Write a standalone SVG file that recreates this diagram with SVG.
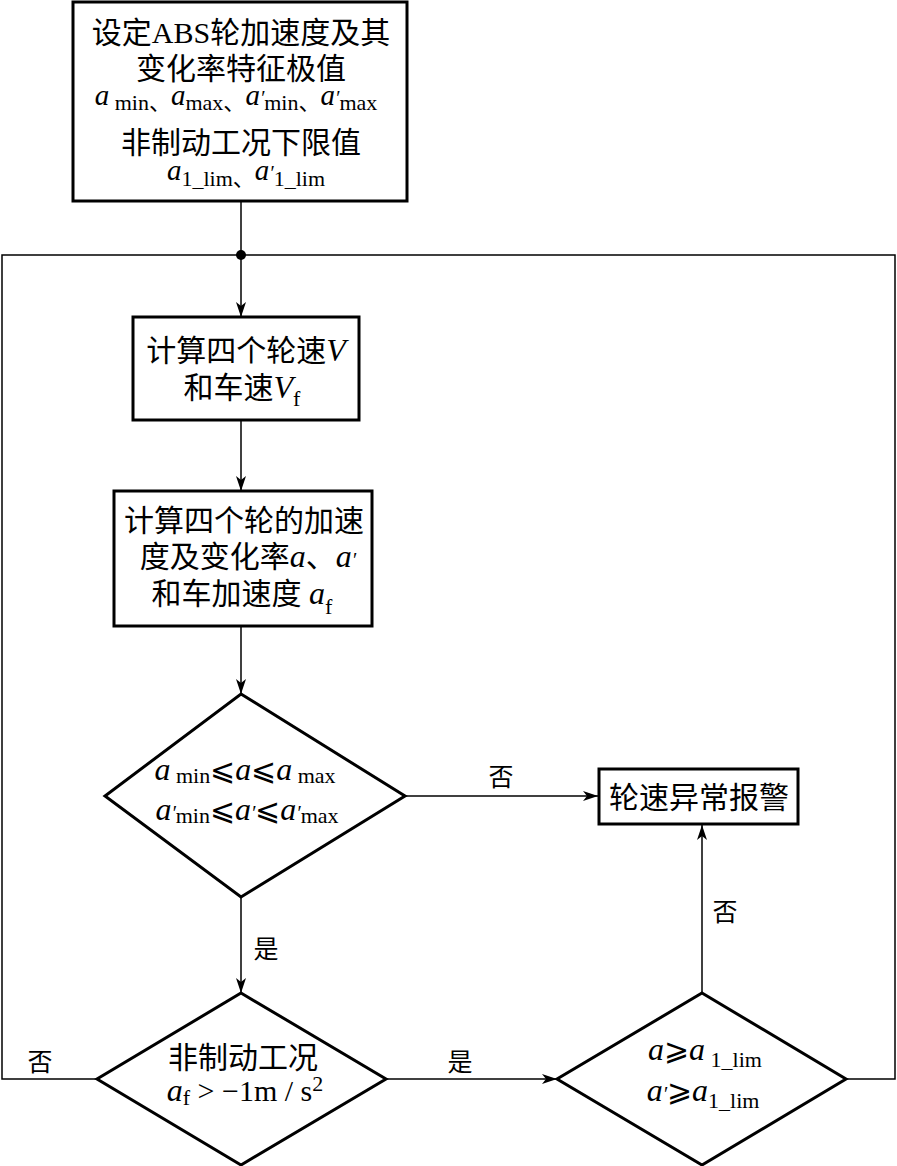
<svg xmlns="http://www.w3.org/2000/svg" width="897" height="1166" viewBox="0 0 897 1166">
<style>
.box{fill:#fff;stroke:#000;stroke-width:3}
.conn{fill:none;stroke:#000;stroke-width:1.5}
.t{font-family:"Liberation Serif","Noto Sans CJK SC","DejaVu Serif",serif;font-size:30px;fill:#000}
.i{font-style:italic;font-size:32px}
.ti{font-style:italic;font-size:29px}
.p{font-style:italic;font-size:20px}
.s{font-size:22px;font-style:normal}
.lbl{font-family:"Liberation Serif","Noto Sans CJK SC",serif;font-size:25px;fill:#000}
</style>
<defs>
<marker id="arr" markerUnits="userSpaceOnUse" markerWidth="16" markerHeight="10" refX="15" refY="5" orient="auto">
<path d="M0,0 L15,5 L0,10 L4,5 Z" fill="#000"/>
</marker>
</defs>
<g id="connectors">
<path class="conn" d="M241,201 V317" marker-end="url(#arr)"/>
<path class="conn" d="M97,1079 H2 V255 H895 V1079 H846"/>
<circle cx="241" cy="255" r="5" fill="#000"/>
<path class="conn" d="M241,420 V491" marker-end="url(#arr)"/>
<path class="conn" d="M241,626 V694" marker-end="url(#arr)"/>
<path class="conn" d="M405,796 H598" marker-end="url(#arr)"/>
<path class="conn" d="M241,897 V993" marker-end="url(#arr)"/>
<path class="conn" d="M386,1079 H557" marker-end="url(#arr)"/>
<path class="conn" d="M702,993 V825" marker-end="url(#arr)"/>
<text class="lbl" x="501" y="786" text-anchor="middle">否</text>
<text class="lbl" x="266" y="958" text-anchor="middle">是</text>
<text class="lbl" x="40" y="1071" text-anchor="middle">否</text>
<text class="lbl" x="460" y="1071" text-anchor="middle">是</text>
<text class="lbl" x="725" y="921" text-anchor="middle">否</text>
</g>
<g id="node-init">
<rect class="box" x="73" y="2" width="334" height="199"/>
<text class="t" x="241" y="43" text-anchor="middle">设定ABS轮加速度及其</text>
<text class="t" x="241" y="79" text-anchor="middle">变化率特征极值</text>
<text class="t" x="236" y="105" text-anchor="middle"><tspan class="ti">a</tspan><tspan class="s" dy="5"> min</tspan><tspan class="s">、</tspan><tspan class="ti" dy="-5">a</tspan><tspan class="s" dy="5">max</tspan><tspan class="s">、</tspan><tspan class="ti" dy="-5">a</tspan><tspan class="p">′</tspan><tspan class="s" dy="5">min</tspan><tspan class="s">、</tspan><tspan class="ti" dy="-5">a</tspan><tspan class="p">′</tspan><tspan class="s" dy="5">max</tspan></text>
<text class="t" x="241" y="153" text-anchor="middle">非制动工况下限值</text>
<text class="t" x="246" y="180" text-anchor="middle"><tspan class="ti">a</tspan><tspan class="s" dy="6">1_lim</tspan><tspan class="s">、</tspan><tspan class="ti" dy="-6">a</tspan><tspan class="p">′</tspan><tspan class="s" dy="6">1_lim</tspan></text>
</g>
<g id="node-speed">
<rect class="box" x="133" y="317" width="226" height="103"/>
<text class="t" x="246" y="361" text-anchor="middle">计算四个轮速<tspan class="i">V</tspan></text>
<text class="t" x="242" y="398" text-anchor="middle">和车速<tspan class="i">V</tspan><tspan class="s" dy="8">f</tspan></text>
</g>
<g id="node-accel">
<rect class="box" x="114" y="491" width="258" height="135"/>
<text class="t" x="244" y="531" text-anchor="middle">计算四个轮的加速</text>
<text class="t" x="248" y="567" text-anchor="middle">度及变化率<tspan class="i">a</tspan>、<tspan class="i">a</tspan><tspan class="p">′</tspan></text>
<text class="t" x="242" y="604" text-anchor="middle">和车加速度 <tspan class="i">a</tspan><tspan class="s" dy="10">f</tspan></text>
</g>
<g id="node-check1">
<polygon class="box" points="241,694 405,796 241,897 105,796"/>
<text class="t" x="245" y="780" text-anchor="middle"><tspan class="i">a</tspan><tspan class="s" dy="3"> min</tspan><tspan dy="-3">⩽</tspan><tspan class="i">a</tspan>⩽<tspan class="i">a</tspan><tspan class="s" dy="3"> max</tspan></text>
<text class="t" x="247" y="820" text-anchor="middle"><tspan class="i">a</tspan><tspan class="p">′</tspan><tspan class="s" dy="3">min</tspan><tspan dy="-3">⩽</tspan><tspan class="i">a</tspan><tspan class="p">′</tspan>⩽<tspan class="i">a</tspan><tspan class="p">′</tspan><tspan class="s" dy="3">max</tspan></text>
</g>
<g id="node-alarm">
<rect class="box" x="599" y="769" width="199" height="55"/>
<text class="t" x="699" y="808" text-anchor="middle">轮速异常报警</text>
</g>
<g id="node-check2">
<polygon class="box" points="241,993 386,1079 241,1165 97,1079"/>
<text class="t" x="243" y="1068" text-anchor="middle">非制动工况</text>
<text class="t" x="245" y="1101" text-anchor="middle"><tspan class="i">a</tspan><tspan class="s" dy="4">f</tspan><tspan dy="-4"> &gt; −1m / s</tspan><tspan class="s" dy="-10">2</tspan></text>
</g>
<g id="node-check3">
<polygon class="box" points="702,993 846,1079 702,1165 557,1079"/>
<text class="t" x="705" y="1060" text-anchor="middle"><tspan class="i">a</tspan>⩾<tspan class="i">a</tspan><tspan class="s" dy="7"> 1_lim</tspan></text>
<text class="t" x="703" y="1101" text-anchor="middle"><tspan class="i">a</tspan><tspan class="p">′</tspan>⩾<tspan class="i">a</tspan><tspan class="s" dy="7">1_lim</tspan></text>
</g>
</svg>
